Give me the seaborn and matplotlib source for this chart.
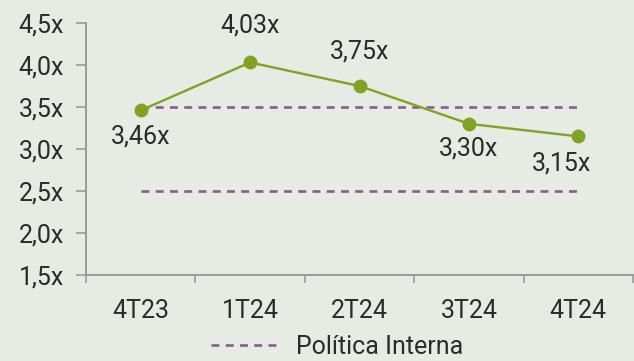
import matplotlib
matplotlib.use("Agg")
import matplotlib.pyplot as plt
import seaborn as sns
import pandas as pd
from matplotlib.lines import Line2D

quarters = ["4T23", "1T24", "2T24", "3T24", "4T24"]
leverage = [3.46, 4.03, 3.75, 3.30, 3.15]
policy_upper = 3.5
policy_lower = 2.5
y_ticks = [1.5, 2.0, 2.5, 3.0, 3.5, 4.0, 4.5]
legend_label = "Política Interna"

bg = "#e6ebe4"
green = "#80a323"
purple = "#8c5a8f"
text_color = "#2b2b2b"
spine_color = "#9a9a9a"
fs = 18

sns.set_theme(style="white")
plt.rcParams["font.family"] = ["Roboto", "DejaVu Sans"]

df = pd.DataFrame({"quarter": quarters, "x": range(len(quarters)), "value": leverage})

fig = plt.figure(figsize=(6.34, 3.61), dpi=100, facecolor=bg)
ax = fig.add_axes([86 / 634, 1 - 275 / 361, 547 / 634, 252 / 361])
ax.set_facecolor(bg)

# policy band limits
dash = (0, (3.0, 2.4))
for level in (policy_upper, policy_lower):
    ax.plot([0, len(quarters) - 1], [level, level], color=purple,
            linestyle=dash, linewidth=1.9, zorder=1)

sns.lineplot(data=df, x="x", y="value", ax=ax, color=green, linewidth=1.7,
             marker="o", markersize=10, markeredgewidth=0, zorder=3)

# value labels
offsets = [(0, -10, "top"), (0, 18, "bottom"), (0, 16, "bottom"),
           (0, -9, "top"), (-12, -11, "top")]
for i, (v, (dx, dy, va)) in enumerate(zip(leverage, offsets)):
    ax.annotate(f"{v:.2f}x".replace(".", ","), (i, v), xytext=(dx, dy),
                textcoords="offset points", ha="center", va=va,
                fontsize=fs, color=text_color)

ax.set_xlim(-0.5, len(quarters) - 0.5)
ax.set_ylim(y_ticks[0], y_ticks[-1])
ax.set_yticks(y_ticks)
ax.set_yticklabels([f"{t:.1f}x".replace(".", ",") for t in y_ticks])
ax.set_xticks(range(len(quarters)))
ax.set_xticklabels(quarters)
ax.set_xticks([i - 0.5 for i in range(len(quarters) + 1)], minor=True)
ax.set_xlabel("")
ax.set_ylabel("")

ax.tick_params(axis="y", which="major", length=7, width=1.2, color=spine_color,
               labelsize=fs, labelcolor=text_color, pad=9, left=True)
ax.tick_params(axis="x", which="major", length=0, labelsize=fs,
               labelcolor=text_color, pad=17)
ax.tick_params(axis="x", which="minor", length=6, width=1.2, color=spine_color,
               bottom=True)

for side in ("top", "right"):
    ax.spines[side].set_visible(False)
for side in ("left", "bottom"):
    ax.spines[side].set_color(spine_color)
    ax.spines[side].set_linewidth(1.4)

handle = Line2D([0], [0], color=purple, linestyle=dash, linewidth=1.9)
fig.legend([handle], [legend_label], loc="center", bbox_to_anchor=(0.532, 1 - 347 / 361),
           frameon=False, fontsize=fs, handlelength=2.8, handletextpad=0.6,
           labelcolor=text_color, borderpad=0, borderaxespad=0)

fig.savefig("out.png", dpi=100, facecolor=bg)
